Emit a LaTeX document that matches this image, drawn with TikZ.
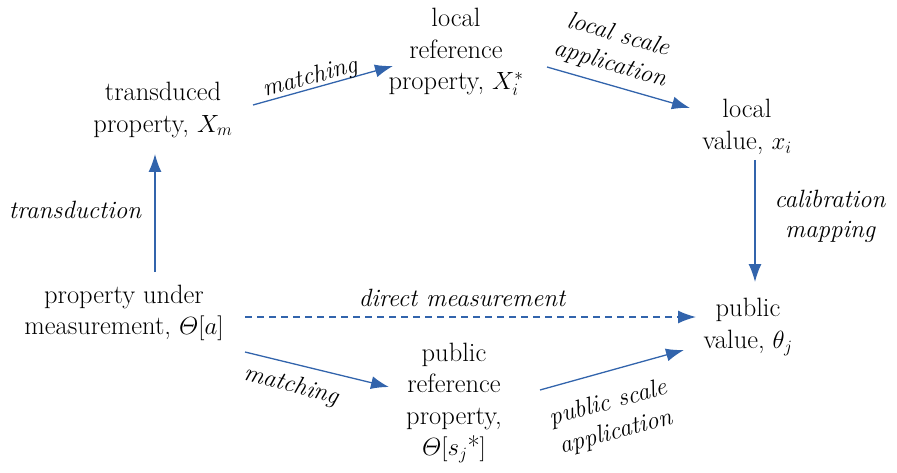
\documentclass[tikz,border=0pt]{standalone}
\usepackage{amsmath}
\usetikzlibrary{arrows.meta}
\definecolor{arrblue}{RGB}{50,100,172}
\tikzset{
  txt/.style={inner sep=0pt, align=center, font=\fontsize{26.5}{31.5}\selectfont},
  lbl/.style={inner sep=0pt, align=center, font=\fontsize{25}{30}\selectfont\itshape},
  conn/.style={draw=arrblue, line width=1.3pt, -{Latex[length=18pt,width=13pt]}},
}
\begin{document}
\begin{tikzpicture}[x=1pt,y=-1pt]
\useasboundingbox (0,0) rectangle (897,473);
% nodes
\node[txt] (tp) at (163,110) {transduced\\property, $X_m$};
\node[txt] (lr) at (456,52) {local\\reference\\property, $X_i^*$};
\node[txt] (lv) at (747,127) {local\\value, $x_i$};
\node[txt] (pm) at (124,313) {property under\\measurement, $\varTheta[a]$};
\node[txt] (pv) at (748,327) {public\\value, $\theta_j$};
\node[txt] (pr) at (454,403) {public\\reference\\property,\\$\varTheta[s_j\text{*}]$};
% connector end points
\coordinate (a1s) at (155,272); \coordinate (a1e) at (155,154);
\coordinate (a2s) at (253,105); \coordinate (a2e) at (393,66);
\coordinate (a3s) at (547,67);  \coordinate (a3e) at (690,108);
\coordinate (a4s) at (755,160); \coordinate (a4e) at (755,282);
\coordinate (a5s) at (245,317); \coordinate (a5e) at (696,317);
\coordinate (a6s) at (245,352); \coordinate (a6e) at (389,387);
\coordinate (a7s) at (540,390); \coordinate (a7e) at (684,350);
% connectors
\draw[conn] (a1s) -- (a1e);
\draw[conn] (a2s) -- (a2e);
\draw[conn] (a3s) -- (a3e);
\draw[conn] (a4s) -- (a4e);
\draw[conn, dash pattern=on 7pt off 5pt] (a5s) -- (a5e);
\draw[conn] (a6s) -- (a6e);
\draw[conn] (a7s) -- (a7e);
% labels
\node[lbl] (l1) at (75,210) {transduction};
\node[lbl, rotate=15] (l2) at (310,78) {matching};
\node[lbl, rotate=-16] (l3) at (614,50) {local scale\\application};
\node[lbl] (l4) at (830,216) {calibration\\mapping};
\node[lbl] (l5) at (462,298) {direct measurement};
\node[lbl, rotate=-15] (l6) at (291,386) {matching};
\node[lbl, rotate=15] (l7) at (612,418) {public scale\\application};
\end{tikzpicture}
\end{document}
